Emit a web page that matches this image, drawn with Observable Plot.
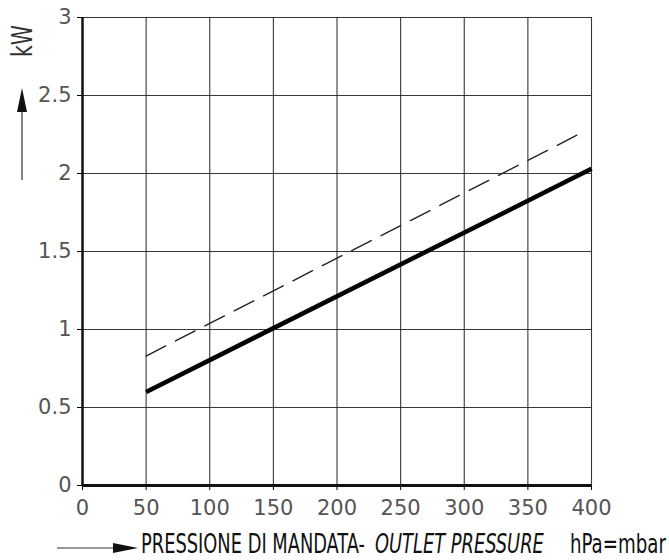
<!DOCTYPE html>
<html>
<head>
<meta charset="utf-8">
<script src="https://cdn.jsdelivr.net/npm/d3@7"></script>
<script src="https://cdn.jsdelivr.net/npm/@observablehq/plot@0.6"></script>
<style>
  html, body { margin: 0; padding: 0; background: #fff; }
  #chart svg { display: block; }
  g[aria-label$="tick label"] text { fill: #555; }
</style>
</head>
<body>
<div id="chart"></div>
<script>
// Data
const xTicks = [0, 50, 100, 150, 200, 250, 300, 350, 400];
const yTicks = [0, 0.5, 1, 1.5, 2, 2.5, 3];
const solidPressure = [50, 400];
const solidKW = [0.60, 2.03];
const dashedPressure = [50, 392];
const dashedKW = [0.83, 2.26];

const solid = solidPressure.map((p, i) => ({p, kw: solidKW[i]}));
const dashed = dashedPressure.map((p, i) => ({p, kw: dashedKW[i]}));

const tickFont = "'DejaVu Sans ExtraLight', 'DejaVu Sans', sans-serif";

const chart = Plot.plot({
  width: 669,
  height: 560,
  marginLeft: 82,
  marginRight: 78,
  marginTop: 17,
  marginBottom: 75,
  style: {fontFamily: tickFont, fontSize: "21px", background: "#fff"},
  x: {domain: [0, 400], ticks: xTicks},
  y: {domain: [0, 3], ticks: yTicks},
  marks: [
    Plot.gridX(xTicks.filter(d => d > 0), {stroke: "#222", strokeOpacity: 0.9, strokeWidth: 1.1}),
    Plot.gridY(yTicks.filter(d => d > 0), {stroke: "#222", strokeOpacity: 0.9, strokeWidth: 1.1}),
    Plot.axisX({ticks: xTicks, tickSize: 5, tickPadding: 10, label: null, tickFormat: d => String(d), fontSize: 21, fontFamily: tickFont}),
    Plot.axisY({ticks: yTicks, tickSize: 5, tickPadding: 6, label: null, tickFormat: d => String(d), fontSize: 21, fontFamily: tickFont}),
    Plot.ruleX([0], {stroke: "#111", strokeWidth: 2.5}),
    Plot.ruleY([0], {stroke: "#111", strokeWidth: 3}),
    Plot.line(dashed, {x: "p", y: "kw", stroke: "#222", strokeWidth: 1.4, strokeDasharray: "22,11"}),
    Plot.line(solid, {x: "p", y: "kw", stroke: "#000", strokeWidth: 4.5, strokeLinecap: "butt"})
  ]
});

document.getElementById("chart").appendChild(chart);

// Annotations: axis titles and arrows
const svg = d3.select(chart);
const labelFont = "'DejaVu Sans Condensed', 'DejaVu Sans', sans-serif";

// condensed text: scale horizontally (in text's own frame) to a target length
function condensed(parent, s, size, italic, target, transformPrefix, fill) {
  const g = parent.append("g");
  const txt = g.append("text")
    .attr("x", 0).attr("y", 0)
    .attr("text-anchor", "start")
    .attr("font-family", labelFont)
    .attr("font-size", size)
    .attr("font-style", italic ? "italic" : "normal")
    .attr("fill", fill || "#111")
    .text(s);
  const natural = txt.node().getComputedTextLength() || target;
  const sx = target / natural;
  g.attr("transform", `${transformPrefix} scale(${sx},1)`);
  return g;
}

// y-axis title "kW" rotated
condensed(svg, "kW", 29, false, 32, "translate(32,57) rotate(-90)", "#333");

// y arrow
svg.append("line").attr("x1", 22).attr("x2", 22).attr("y1", 180).attr("y2", 105)
  .attr("stroke", "#333").attr("stroke-width", 1.2);
svg.append("path").attr("d", "M22,88 L17,112 L27,112 Z").attr("fill", "#111");

// x arrow
svg.append("line").attr("x1", 57).attr("x2", 120).attr("y1", 548).attr("y2", 548)
  .attr("stroke", "#333").attr("stroke-width", 1.2);
svg.append("path").attr("d", "M138,548 L113,543 L113,553 Z").attr("fill", "#111");

// x-axis title
condensed(svg, "PRESSIONE DI MANDATA-", 26, false, 224, "translate(141,553)");
condensed(svg, "OUTLET PRESSURE", 26, true, 169, "translate(375,553)");
condensed(svg, "hPa=mbar", 26, false, 96, "translate(570,553)");
</script>
</body>
</html>
